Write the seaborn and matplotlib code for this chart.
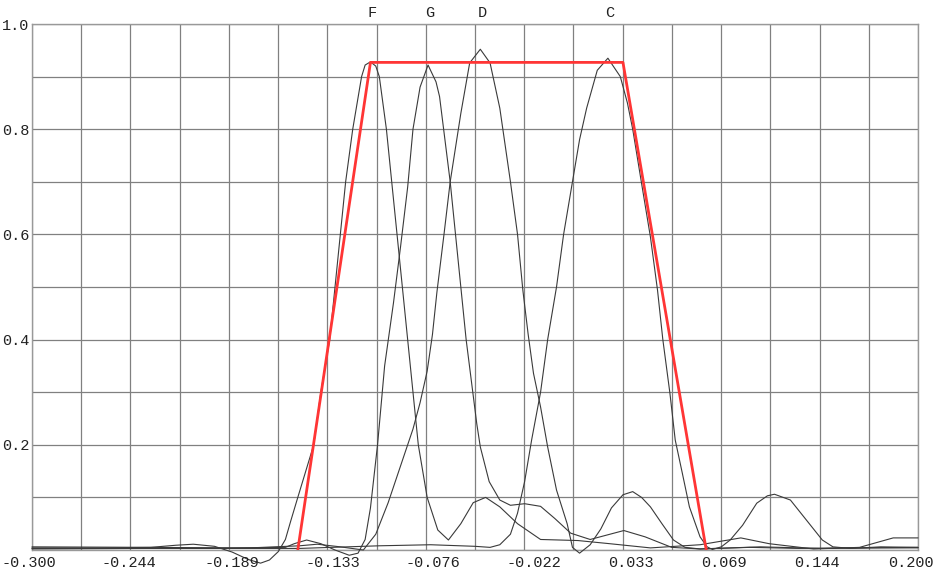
import numpy as np
import pandas as pd
import matplotlib
matplotlib.use("Agg")
import matplotlib.pyplot as plt
import matplotlib.transforms as mtransforms
import seaborn as sns

# ---------------- data ----------------
x_tick_labels = ["-0.300", "-0.244", "-0.189", "-0.133", "-0.076",
                 "-0.022", "0.033", "0.069", "0.144", "0.200"]
y_tick_values = [0.2, 0.4, 0.6, 0.8, 1.0]
y_tick_labels = ["0.2", "0.4", "0.6", "0.8", "1.0"]

curve_names = ["F", "G", "D", "C"]

F_x = [-0.300, -0.262, -0.233, -0.219, -0.209, -0.197, -0.187, -0.178, -0.171, -0.166,
       -0.161, -0.157, -0.154, -0.150, -0.141, -0.137, -0.132, -0.129, -0.126, -0.123,
       -0.119, -0.114, -0.112, -0.109, -0.106, -0.104, -0.100, -0.097, -0.094, -0.091,
       -0.088, -0.085, -0.082, -0.077, -0.071, -0.065, -0.058, -0.051, -0.044, -0.036,
       -0.026, -0.013, 0.008, 0.026, 0.049, 0.077, 0.100, 0.116, 0.141, 0.167,
       0.186, 0.200]
F_y = [0.004, 0.004, 0.005, 0.009, 0.011, 0.007, -0.004, -0.018, -0.025, -0.019,
       -0.003, 0.020, 0.055, 0.100, 0.200, 0.300, 0.400, 0.500, 0.600, 0.700,
       0.800, 0.900, 0.922, 0.928, 0.920, 0.900, 0.800, 0.700, 0.600, 0.500,
       0.400, 0.300, 0.200, 0.100, 0.038, 0.019, 0.050, 0.090, 0.100, 0.082,
       0.050, 0.020, 0.018, 0.012, 0.004, 0.010, 0.023, 0.012, 0.002, 0.005,
       0.023, 0.023]

G_x = [-0.300, -0.233, -0.188, -0.157, -0.152, -0.145, -0.137, -0.129, -0.121, -0.116,
       -0.112, -0.109, -0.105, -0.101, -0.096, -0.092, -0.088, -0.085, -0.081, -0.0765,
       -0.072, -0.070, -0.064, -0.061, -0.058, -0.055, -0.052, -0.049, -0.047, -0.042,
       -0.036, -0.030, -0.022, -0.013, -0.005, 0.004, 0.015, 0.034, 0.046, 0.061,
       0.077, 0.105, 0.133, 0.162, 0.200]
G_y = [0.006, 0.005, 0.004, 0.005, 0.012, 0.019, 0.012, 0.000, -0.010, -0.006,
       0.020, 0.080, 0.200, 0.350, 0.470, 0.577, 0.690, 0.800, 0.880, 0.922,
       0.890, 0.862, 0.700, 0.600, 0.500, 0.400, 0.320, 0.240, 0.196, 0.130,
       0.095, 0.085, 0.088, 0.083, 0.060, 0.032, 0.020, 0.037, 0.025, 0.005,
       0.002, 0.005, 0.003, 0.004, 0.005]

D_x = [-0.300, -0.233, -0.177, -0.149, -0.139, -0.126, -0.113, -0.106, -0.099, -0.092,
       -0.085, -0.081, -0.077, -0.074, -0.0715, -0.0675, -0.064, -0.058, -0.053, -0.047,
       -0.0415, -0.036, -0.030, -0.026, -0.023, -0.020, -0.017, -0.013, -0.009, -0.004,
       0.002, 0.005, 0.009, 0.015, 0.021, 0.027, 0.0335, 0.039, 0.044, 0.049,
       0.0555, 0.062, 0.0685, 0.077, 0.111, 0.145, 0.179, 0.200]
D_y = [0.003, 0.003, 0.004, 0.008, 0.011, 0.006, 0.000, 0.030, 0.090, 0.160,
       0.230, 0.280, 0.340, 0.410, 0.490, 0.600, 0.700, 0.830, 0.926, 0.952,
       0.926, 0.840, 0.700, 0.600, 0.494, 0.410, 0.336, 0.272, 0.196, 0.114,
       0.050, 0.005, -0.006, 0.010, 0.040, 0.080, 0.105, 0.111, 0.100, 0.082,
       0.050, 0.019, 0.005, 0.002, 0.006, 0.003, 0.004, 0.004]

C_x = [-0.300, -0.233, -0.149, -0.104, -0.075, -0.050, -0.0415, -0.036, -0.030, -0.026,
       -0.022, -0.018, -0.013, -0.009, -0.004, 0.000, 0.005, 0.009, 0.013, 0.019,
       0.025, 0.032, 0.036, 0.039, 0.044, 0.049, 0.053, 0.056, 0.060, 0.063,
       0.067, 0.071, 0.077, 0.081, 0.084, 0.089, 0.094, 0.101, 0.109, 0.115,
       0.119, 0.128, 0.137, 0.146, 0.152, 0.162, 0.179, 0.200]
C_y = [0.002, 0.003, 0.003, 0.008, 0.010, 0.007, 0.005, 0.010, 0.030, 0.070,
       0.130, 0.210, 0.300, 0.400, 0.500, 0.600, 0.700, 0.780, 0.840, 0.912,
       0.935, 0.900, 0.850, 0.800, 0.697, 0.595, 0.494, 0.400, 0.298, 0.209,
       0.146, 0.082, 0.025, 0.006, 0.001, 0.006, 0.019, 0.047, 0.089, 0.103,
       0.106, 0.095, 0.057, 0.019, 0.006, 0.003, 0.006, 0.005]

band_x = [-0.150, -0.109, 0.0335, 0.0805]
band_y = [0.0, 0.927, 0.927, 0.0]

# ---------------- layout (label anchor positions along x) ----------------
x_label_pos = [-0.3017, -0.2453, -0.1873, -0.1300, -0.0737,
               -0.0167, 0.0380, 0.0905, 0.1428, 0.1960]

# ---------------- build table ----------------
series = {"F": (F_x, F_y), "G": (G_x, G_y), "D": (D_x, D_y), "C": (C_x, C_y)}
frames = []
for name in curve_names:
    xs, ys = series[name]
    frames.append(pd.DataFrame({"x": xs, "y": ys, "curve": name}))
df = pd.concat(frames, ignore_index=True)
band_df = pd.DataFrame({"x": band_x, "y": band_y})

# ---------------- plot ----------------
sns.set_theme(style="white")
plt.rcParams["font.family"] = ["Liberation Mono", "DejaVu Sans"]

fig = plt.figure(figsize=(9.36, 5.76), dpi=100)
ax = fig.add_axes([32 / 936, 26 / 576, 886 / 936, 526 / 576])

grid_color = "#808080"
ax.set_xticks(np.linspace(-0.3, 0.2, 19))
ax.set_xticklabels([])
ax.set_yticks(y_tick_values)
ax.set_yticklabels(y_tick_labels)
ax.set_yticks(np.linspace(0.0, 1.0, 11), minor=True)
ax.set_xlim(-0.3, 0.2)
ax.set_ylim(0.0, 1.0)
ax.grid(True, which="both", color=grid_color, linewidth=0.9)
ax.set_axisbelow(True)
ax.tick_params(axis="x", which="both", length=0)
ax.tick_params(axis="y", which="major", length=1.5, pad=0.5, labelsize=11,
               colors="#222222", color=grid_color)
ax.tick_params(axis="y", which="minor", length=0)
for side in ["left", "bottom", "top", "right"]:
    ax.spines[side].set_color("#999999")
    ax.spines[side].set_linewidth(1.0)

sns.lineplot(data=df, x="x", y="y", units="curve", estimator=None, sort=False,
             color="#3a3a3a", linewidth=0.8, legend=False, ax=ax, clip_on=False,
             zorder=3)
sns.lineplot(data=band_df, x="x", y="y", estimator=None, sort=False,
             color="#ff3535", linewidth=2.0, legend=False, ax=ax, zorder=4)

ax.set_xlabel("")
ax.set_ylabel("")

# x-axis labels as texts below the axis
trans = mtransforms.blended_transform_factory(ax.transData, ax.transAxes)
trans_below = mtransforms.offset_copy(trans, fig=fig, y=-4.5, units="points")
for pos, lab in zip(x_label_pos, x_tick_labels):
    ax.text(pos, 0.0, lab, transform=trans_below, ha="center", va="top",
            fontsize=11, color="#222222", clip_on=False)

# curve names above peaks
trans_name = mtransforms.offset_copy(trans, fig=fig, x=1.5, units="points")
for name in curve_names:
    xs, ys = series[name]
    xpk = xs[int(np.argmax(ys))]
    ax.text(xpk, 1.021, name, transform=trans_name, ha="center", va="center",
            fontsize=11, color="#222222")

fig.savefig("out.png", dpi=100)
